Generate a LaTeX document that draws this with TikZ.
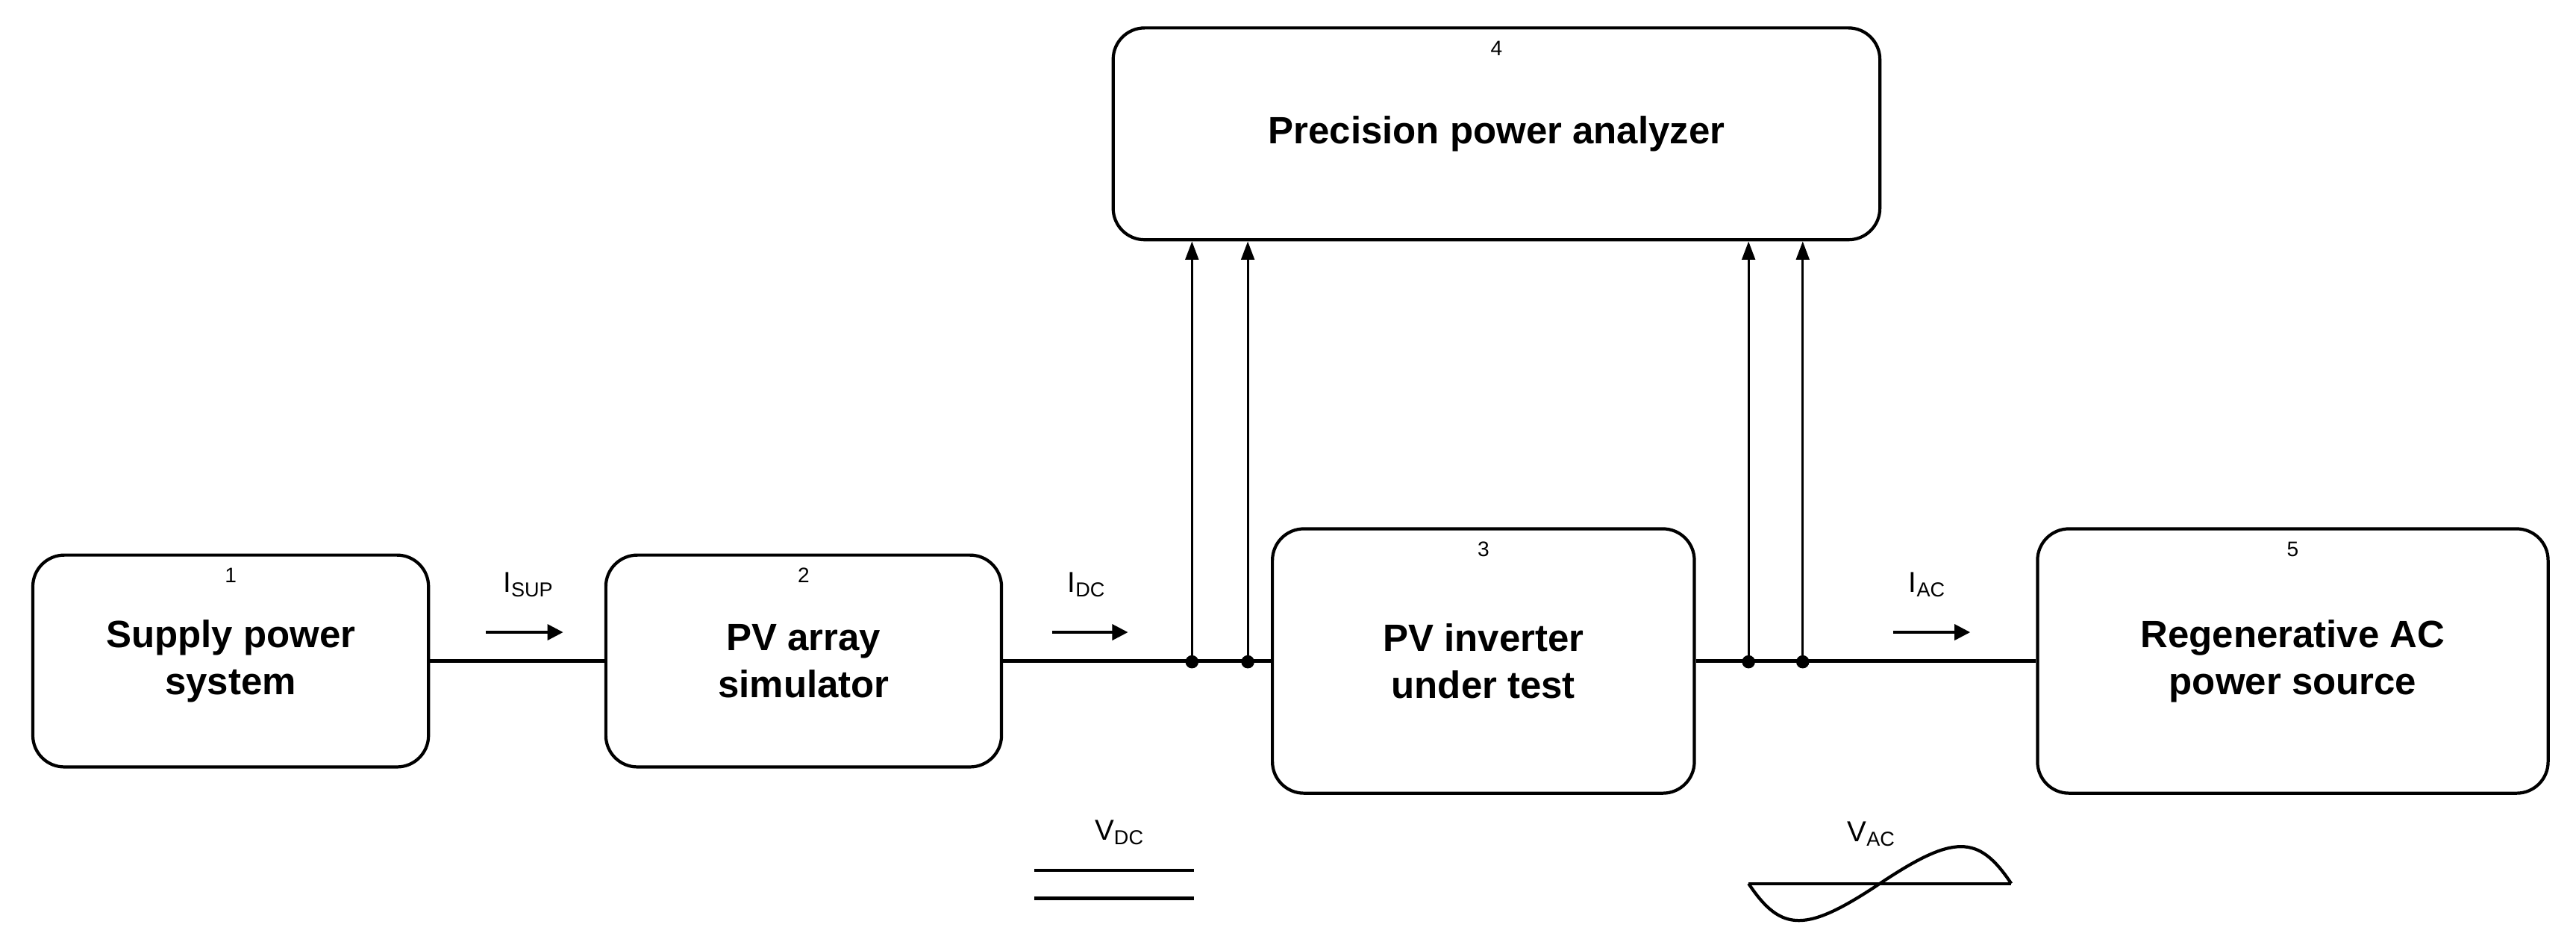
\documentclass[tikz,border=0pt]{standalone}
\usepackage{fontspec}
\setmainfont{Liberation Sans}
\usetikzlibrary{arrows.meta,positioning}

\begin{document}
\begin{tikzpicture}[x=0.022cm,y=-0.022cm,
    block/.style={draw, line width=1.2pt, rounded corners=12pt, align=center,
        font=\fontsize{14.5}{18}\selectfont\bfseries, inner sep=0pt},
    num/.style={font=\fontsize{8}{9}\selectfont},
    wire/.style={line width=1.2pt},
    meas/.style={line width=0.9pt, -{Triangle[length=7pt,width=5pt]}},
    flow/.style={line width=1pt, -{Triangle[length=6pt,width=6pt]}},
    lbl/.style={font=\fontsize{11}{13}\selectfont},
    dot/.style={circle, fill, inner sep=0pt, minimum size=5pt}]
    \useasboundingbox (0,0) rectangle (1569,573.6);

    % blocks
    \node[block, minimum width=241*0.022cm, minimum height=129*0.022cm] (sup) at (140.5,402.5) {Supply power\\system};
    \node[block, minimum width=241*0.022cm, minimum height=129*0.022cm] (sim) at (489.5,402.5) {PV array\\simulator};
    \node[block, minimum width=257*0.022cm, minimum height=161*0.022cm] (inv) at (903.5,402.5) {PV inverter\\under test};
    \node[block, minimum width=311*0.022cm, minimum height=161*0.022cm] (src) at (1396.5,402.5) {Regenerative AC\\power source};
    \node[block, minimum width=467*0.022cm, minimum height=129*0.022cm] (ana) at (911.5,81.5) {Precision power analyzer};

    % block numbers
    \node[num, below=2pt] at (sup.north) {1};
    \node[num, below=2pt] at (sim.north) {2};
    \node[num, below=2pt] at (inv.north) {3};
    \node[num, below=2pt] at (ana.north) {4};
    \node[num, below=2pt] at (src.north) {5};

    % main line
    \draw[wire] (sup) -- (sim);
    \draw[wire] (sim) -- (inv);
    \draw[wire] (inv) -- (src);

    % measuring points
    \node[dot] (d1) at (726,403) {};
    \node[dot] (d2) at (760,403) {};
    \node[dot] (d3) at (1065,403) {};
    \node[dot] (d4) at (1098,403) {};
    \foreach \d in {d1,d2,d3,d4}
        \draw[meas] (\d.center) -- (\d.center |- ana.south);

    % currents
    \coordinate (a1) at (296,385); \coordinate (b1) at (343,385);
    \coordinate (a2) at (641,385); \coordinate (b2) at (687,385);
    \coordinate (a3) at (1153,385); \coordinate (b3) at (1200,385);
    \draw[flow] (a1) -- (b1);
    \draw[flow] (a2) -- (b2);
    \draw[flow] (a3) -- (b3);
    \node[lbl] at (322,356) {I\textsubscript{SUP}};
    \node[lbl] at (662,356) {I\textsubscript{DC}};
    \node[lbl] at (1174,356) {I\textsubscript{AC}};

    % voltages
    \node[lbl] at (682,507) {V\textsubscript{DC}};
    \draw[wire] (630,530) -- (727,530);
    \draw[wire] (630,547) -- (727,547);
    \node[lbl] at (1140,508) {V\textsubscript{AC}};
    \draw[wire] (1065,538) -- (1225,538);
    \draw[wire] (1065,538) .. controls (1085,568) and (1100,568) .. (1145,538)
        .. controls (1190,508) and (1205,508) .. (1225,538);
\end{tikzpicture}
\end{document}
